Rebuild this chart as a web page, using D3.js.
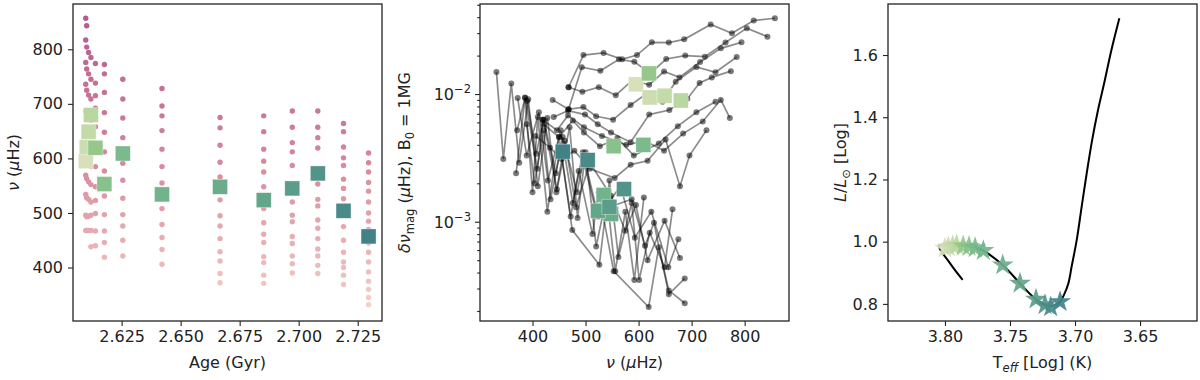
<!DOCTYPE html>
<html>
<head>
<meta charset="utf-8">
<script src="https://cdn.jsdelivr.net/npm/d3@7"></script>
<style>
body { margin: 0; background: #fff; }
svg text { font-family: "DejaVu Sans", sans-serif; fill: #222; }
</style>
</head>
<body>
<script>
// one value per model, ordered by age
var ages = [2.6098, 2.6102, 2.6110, 2.6120, 2.6139, 2.6177, 2.6255, 2.6421, 2.6667, 2.6852, 2.6973, 2.7081, 2.7190, 2.7296];
var numax = [595, 621, 649, 679.5, 619.5, 553, 609, 534, 548, 523.5, 545, 572.5, 504, 457];
var dnuMax = [0.0119, 0.0094, 0.0097, 0.0089, 0.0145, 0.0039, 0.0040, 0.00162, 0.00115, 0.00122, 0.00131, 0.0018, 0.00304, 0.00354];
var logTeff = [3.8000, 3.7974, 3.7941, 3.7910, 3.7860, 3.7815, 3.7768, 3.7705, 3.7556, 3.7423, 3.7300, 3.7231, 3.7187, 3.7115];
var logL = [0.979, 0.983, 0.987, 0.989, 0.986, 0.984, 0.980, 0.971, 0.925, 0.866, 0.815, 0.797, 0.790, 0.807];

// mode frequencies (muHz) of every model
var modeNu = [
  [468, 496, 534, 569, 597, 625, 657, 686, 736, 776, 817, 857],
  [468, 493, 528, 563, 592, 622, 652, 688, 725, 764, 804, 843],
  [468, 494, 525, 557, 588, 620, 648, 677, 716, 755, 794],
  [438, 468, 496, 520, 552, 585, 613, 645, 670, 709, 745, 785],
  [440, 467, 499, 523, 548, 585, 620, 658, 692, 715, 738, 774],
  [419, 446, 467, 497, 531, 577, 612, 648, 684, 721, 755, 772],
  [421, 450, 476, 497, 527, 560, 591, 638, 674, 709, 745],
  [406, 433, 455, 479, 508, 555, 585, 617, 651, 678, 696, 728],
  [372, 389, 412, 429, 453, 476, 495, 524, 566, 593, 624, 656, 675],
  [371, 386, 409, 420, 446, 461, 482, 508, 548, 575, 595, 617, 649, 678],
  [390, 407, 421, 444, 457, 484, 496, 520, 587, 612, 629, 657, 687],
  [389, 404, 421, 434, 453, 472, 487, 513, 525, 553, 619, 638, 657, 687],
  [369, 386, 400, 410, 428, 450, 475, 526, 545, 562, 587, 601, 621, 649, 664],
  [332, 345, 360, 375, 392, 410, 428, 445, 470, 485, 500, 520, 540, 556, 575, 592, 610]
];
// magnetic frequency shifts (muHz), B0 = 1MG
var modeDnu = [
  [0.0113, 0.0202, 0.0210, 0.0187, 0.0202, 0.0254, 0.0253, 0.0268, 0.0351, 0.0299, 0.0376, 0.0392],
  [0.0076, 0.0162, 0.0152, 0.0187, 0.0179, 0.0145, 0.0188, 0.0200, 0.0196, 0.0253, 0.0328, 0.0281],
  [0.0113, 0.0104, 0.0113, 0.0098, 0.0128, 0.0118, 0.0150, 0.0135, 0.0178, 0.0228, 0.0254],
  [0.0090, 0.0076, 0.0079, 0.0067, 0.0063, 0.0082, 0.0099, 0.0087, 0.0125, 0.0163, 0.0148, 0.0195],
  [0.0066, 0.0074, 0.0069, 0.0058, 0.0050, 0.0042, 0.0069, 0.0075, 0.0092, 0.0122, 0.0135, 0.0151],
  [0.0063, 0.0052, 0.0068, 0.0055, 0.0047, 0.0040, 0.0043, 0.0036, 0.0049, 0.0061, 0.0090, 0.0065],
  [0.0058, 0.0046, 0.0062, 0.0050, 0.0039, 0.0045, 0.0033, 0.0041, 0.0056, 0.0072, 0.0087],
  [0.0047, 0.0038, 0.0031, 0.0036, 0.0026, 0.0022, 0.0028, 0.0030, 0.0044, 0.0019, 0.0033, 0.0052],
  [0.0093, 0.0033, 0.0072, 0.0021, 0.0052, 0.0014, 0.0035, 0.0011, 0.0019, 0.00075, 0.0012, 0.00044, 0.00073],
  [0.0052, 0.0094, 0.0026, 0.0063, 0.0018, 0.0043, 0.0013, 0.0029, 0.0016, 0.00085, 0.00135, 0.0005, 0.00102, 0.00052],
  [0.0088, 0.0034, 0.0063, 0.0024, 0.0046, 0.0017, 0.0030, 0.0012, 0.0015, 0.00065, 0.00098, 0.00027, 0.00036],
  [0.0058, 0.0020, 0.0052, 0.0015, 0.0037, 0.0011, 0.0025, 0.00080, 0.0017, 0.00041, 0.000215, 0.00063, 0.00029, 0.00023],
  [0.0024, 0.0093, 0.0017, 0.0066, 0.0012, 0.0046, 0.00086, 0.00046, 0.0021, 0.00053, 0.0014, 0.00035, 0.00082, 0.00044, 0.00125],
  [0.0149, 0.0031, 0.0121, 0.0029, 0.0091, 0.0019, 0.0065, 0.0017, 0.0055, 0.00107, 0.0035, 0.00064, 0.0016, 0.00041, 0.0012, 0.00035, 0.00155]
];

// evolutionary track
var trackTeff = [3.7864, 3.7962, 3.8046, 3.7936, 3.7808, 3.7705, 3.7556, 3.7423, 3.7300, 3.7192, 3.7115, 3.7085, 3.7051, 3.7026, 3.6987, 3.6949, 3.6910, 3.6868, 3.6823, 3.6776, 3.6720, 3.6659];
var trackL = [0.877, 0.931, 0.987, 0.982, 0.989, 0.971, 0.925, 0.866, 0.815, 0.793, 0.807, 0.829, 0.866, 0.920, 1.005, 1.112, 1.220, 1.327, 1.423, 1.509, 1.616, 1.718];

var ageTicks = [2.625, 2.650, 2.675, 2.700, 2.725];
var nuTicks = [400, 500, 600, 700, 800];
var teffTicks = [3.80, 3.75, 3.70, 3.65];
var lumTicks = [0.8, 1.0, 1.2, 1.4, 1.6];

var yTop = 4, yBot = 321, pw = 309;
var lefts = [73, 480, 888];

var svg = d3.select("body").append("svg").attr("width", 1200).attr("height", 380);

var modelColor = d3.scaleLinear()
  .domain([0, 3, 4, 6, 9, 13])
  .range(["#d8dfbb", "#b9d7a0", "#96c88c", "#7aba8c", "#63a68a", "#418289"]);
var dotColor = d3.scaleLinear()
  .domain([340, 600, 860])
  .range(["#f2cdc6", "#d6869c", "#b35a90"])
  .interpolate(d3.interpolateLab);

function styleAxis(g) {
  g.select(".domain").remove();
  g.selectAll("line").attr("stroke", "#222").attr("stroke-width", 1.1);
  g.selectAll("text").style("font-size", "16px").attr("fill", "#222");
}
function frame(x0) {
  svg.append("rect").attr("x", x0).attr("y", yTop).attr("width", pw).attr("height", yBot - yTop)
    .attr("fill", "none").attr("stroke", "#222").attr("stroke-width", 1.3);
}
// text made of parts: [string, style] where style is "", "i", "sub", "subi"
function mathText(x, y, parts, rotate) {
  var t = svg.append("text").attr("text-anchor", "middle").style("font-size", "16px")
    .attr("transform", "translate(" + x + "," + y + ")" + (rotate ? " rotate(-90)" : ""));
  var low = false;
  parts.forEach(function(p) {
    var s = t.append("tspan").text(p[0]);
    var isSub = p[1] == "sub" || p[1] == "subi";
    if (p[1] == "i" || p[1] == "subi") s.style("font-style", "italic");
    if (isSub) s.style("font-size", "11.5px");
    if (isSub && !low) { s.attr("dy", 4); low = true; }
    else if (!isSub && low) { s.attr("dy", -4); low = false; }
  });
}

// ---------- panel 1: frequency vs age
var x1 = d3.scaleLinear().domain([2.6044, 2.7353]).range([lefts[0], lefts[0] + pw]);
var y1 = d3.scaleLinear().domain([302, 883]).range([yBot, yTop]);

modeNu.forEach(function(list, i) {
  svg.append("g").selectAll("circle").data(list).enter().append("circle")
    .attr("cx", x1(ages[i])).attr("cy", function(d) { return y1(d); })
    .attr("r", 2.7).attr("fill", function(d) { return dotColor(d); });
});
svg.append("g").selectAll("rect").data(ages).enter().append("rect")
  .attr("x", function(d) { return x1(d) - 7.5; })
  .attr("y", function(d, i) { return y1(numax[i]) - 7.5; })
  .attr("width", 15).attr("height", 15)
  .attr("fill", function(d, i) { return modelColor(i); })
  .attr("stroke", "#fff").attr("stroke-opacity", 0.6).attr("stroke-width", 0.6);

svg.append("g").attr("transform", "translate(0," + yBot + ")")
  .call(d3.axisBottom(x1).tickValues(ageTicks).tickFormat(d3.format(".3f")).tickSizeOuter(0).tickSize(5).tickPadding(5))
  .call(styleAxis);
svg.append("g").attr("transform", "translate(" + lefts[0] + ",0)")
  .call(d3.axisLeft(y1).tickValues(nuTicks).tickSizeOuter(0).tickSize(5).tickPadding(5))
  .call(styleAxis);
frame(lefts[0]);
svg.append("text").attr("x", lefts[0] + pw / 2).attr("y", 368).attr("text-anchor", "middle")
  .style("font-size", "16px").text("Age (Gyr)");
mathText(19, 162.5, [["ν", "i"], [" (", ""], ["μ", "i"], ["Hz)", ""]], true);

// ---------- panel 2: magnetic shift vs frequency
var x2 = d3.scaleLinear().domain([301, 883.6]).range([lefts[1], lefts[1] + pw]);
var y2 = d3.scaleLog().domain([1.67e-4, 0.0507]).range([yBot, yTop]);

var line2 = d3.line()
  .x(function(d) { return x2(d[0]); })
  .y(function(d) { return y2(d[1]); });

modeNu.forEach(function(list, i) {
  var pts = list.map(function(v, j) { return [v, modeDnu[i][j]]; });
  var g = svg.append("g");
  g.append("path").datum(pts).attr("d", line2)
    .attr("fill", "none").attr("stroke", "#000").attr("stroke-opacity", 0.45).attr("stroke-width", 1.7);
  g.selectAll("circle").data(pts).enter().append("circle")
    .attr("cx", function(d) { return x2(d[0]); })
    .attr("cy", function(d) { return y2(d[1]); })
    .attr("r", 3).attr("fill", "#000").attr("fill-opacity", 0.52);
});
svg.append("g").selectAll("rect").data(numax).enter().append("rect")
  .attr("x", function(d) { return x2(d) - 7.5; })
  .attr("y", function(d, i) { return y2(dnuMax[i]) - 7.5; })
  .attr("width", 15).attr("height", 15)
  .attr("fill", function(d, i) { return modelColor(i); })
  .attr("stroke", "#fff").attr("stroke-opacity", 0.6).attr("stroke-width", 0.6);

svg.append("g").attr("transform", "translate(0," + yBot + ")")
  .call(d3.axisBottom(x2).tickValues(nuTicks).tickSizeOuter(0).tickSize(5).tickPadding(5))
  .call(styleAxis);

var minor = [];
[1e-4, 1e-3, 1e-2].forEach(function(p) {
  for (var k = 2; k <= 9; k++) if (k * p > 1.67e-4 && k * p < 0.0507) minor.push(k * p);
});
svg.append("g").attr("transform", "translate(" + lefts[1] + ",0)")
  .call(d3.axisLeft(y2).tickValues(minor).tickFormat("").tickSizeOuter(0).tickSize(2.8))
  .call(styleAxis);
svg.append("g").attr("transform", "translate(" + lefts[1] + ",0)")
  .call(d3.axisLeft(y2).tickValues([1e-3, 1e-2]).tickFormat("").tickSizeOuter(0).tickSize(5))
  .call(styleAxis);
[[1e-3, "−3"], [1e-2, "−2"]].forEach(function(m) {
  var t = svg.append("text").attr("x", lefts[1] - 9).attr("y", y2(m[0]) + 6)
    .attr("text-anchor", "end").style("font-size", "16px");
  t.append("tspan").text("10");
  t.append("tspan").attr("dy", -7).style("font-size", "11.5px").text(m[1]);
});
frame(lefts[1]);
mathText(lefts[1] + pw / 2, 368, [["ν", "i"], [" (", ""], ["μ", "i"], ["Hz)", ""]], false);
mathText(410, 162.5, [["δν", "i"], ["mag", "sub"], [" (", ""], ["μ", "i"], ["Hz), B", ""], ["0", "sub"], [" = 1MG", ""]], true);

// ---------- panel 3: HR diagram
var x3 = d3.scaleLinear().domain([3.8438, 3.6062]).range([lefts[2], lefts[2] + pw]);
var y3 = d3.scaleLinear().domain([0.745, 1.764]).range([yBot, yTop]);

var trackPts = trackTeff.map(function(t, i) { return [t, trackL[i]]; });
svg.append("path").datum(trackPts)
  .attr("d", d3.line().curve(d3.curveCatmullRom)
    .x(function(d) { return x3(d[0]); }).y(function(d) { return y3(d[1]); }))
  .attr("fill", "none").attr("stroke", "#000").attr("stroke-width", 2);

svg.append("g").selectAll("path").data(logTeff).enter().append("path")
  .attr("d", d3.symbol().type(d3.symbolStar).size(150))
  .attr("transform", function(d, i) { return "translate(" + x3(d) + "," + y3(logL[i]) + ")"; })
  .attr("fill", function(d, i) { return modelColor(i); })
  .attr("fill-opacity", 0.92);

svg.append("g").attr("transform", "translate(0," + yBot + ")")
  .call(d3.axisBottom(x3).tickValues(teffTicks).tickFormat(d3.format(".2f")).tickSizeOuter(0).tickSize(5).tickPadding(5))
  .call(styleAxis);
svg.append("g").attr("transform", "translate(" + lefts[2] + ",0)")
  .call(d3.axisLeft(y3).tickValues(lumTicks).tickFormat(d3.format(".1f")).tickSizeOuter(0).tickSize(5).tickPadding(5))
  .call(styleAxis);
frame(lefts[2]);
mathText(lefts[2] + pw / 2, 368, [["T", ""], ["eff", "subi"], [" [Log] (K)", ""]], false);
mathText(846, 162.5, [["L", "i"], ["/", ""], ["L", "i"], ["⊙", "sub"], [" [Log]", ""]], true);
</script>
</body>
</html>
